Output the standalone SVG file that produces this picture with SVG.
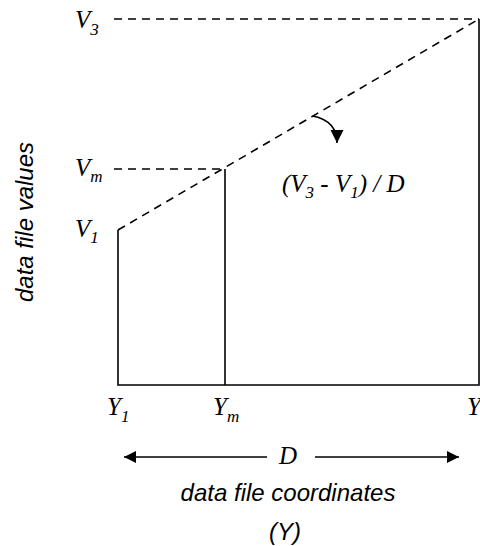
<svg xmlns="http://www.w3.org/2000/svg" width="480" height="546" viewBox="0 0 480 546">
<defs>
<style>
.m{font-family:"Liberation Serif","Times New Roman",serif;font-style:italic;font-size:25px;fill:#000}
.s{font-size:17px}
.a{font-family:"Liberation Sans",Arial,sans-serif;font-style:italic;font-size:24px;fill:#000}
.solid{stroke:#000;stroke-width:1.6;fill:none}
.dash{stroke:#000;stroke-width:1.6;fill:none;stroke-dasharray:8,6}
</style>
<marker id="ah" viewBox="0 0 10 10" refX="10" refY="5" markerWidth="14" markerHeight="12" markerUnits="userSpaceOnUse" orient="auto"><path d="M0,0L10,5L0,10z" fill="#000"/></marker>
<marker id="ahc" viewBox="0 0 10 10" refX="10" refY="5" markerWidth="13" markerHeight="16" markerUnits="userSpaceOnUse" orient="auto"><path d="M0,0L10,5L0,10z" fill="#000"/></marker>
</defs>
<g id="connectors">
<line class="dash" x1="114" y1="19" x2="479" y2="19"/>
<line class="dash" x1="114" y1="169" x2="225" y2="169"/>
<line class="dash" x1="118" y1="230" x2="479" y2="19"/>
<polyline class="solid" points="118,230 118,385 479,385 479,19"/>
<line class="solid" x1="225" y1="169" x2="225" y2="385"/>
<path class="solid" d="M313,116 Q337,121 337,143" marker-end="url(#ahc)"/>
<line class="solid" x1="267" y1="457" x2="124" y2="457" marker-end="url(#ah)"/>
<line class="solid" x1="315" y1="457" x2="459" y2="457" marker-end="url(#ah)"/>
</g>
<g id="labels">
<text class="m" x="75" y="28">V<tspan class="s" dy="7">3</tspan></text>
<text class="m" x="75" y="176">V<tspan class="s" dy="6">m</tspan></text>
<text class="m" x="75" y="237">V<tspan class="s" dy="6">1</tspan></text>
<text class="m" x="282" y="192">(V<tspan class="s" dy="6">3</tspan><tspan dy="-6"> - V</tspan><tspan class="s" dy="6">1</tspan><tspan dy="-6">) / D</tspan></text>
<text class="m" x="107" y="415">Y<tspan class="s" dy="7">1</tspan></text>
<text class="m" x="213" y="415">Y<tspan class="s" dy="7">m</tspan></text>
<text class="m" x="467" y="415">Y</text>
<text class="m" x="288" y="464" text-anchor="middle">D</text>
<text class="a" x="288" y="501" text-anchor="middle">data file coordinates</text>
<text class="a" x="285" y="540" text-anchor="middle">(Y)</text>
<text class="a" transform="translate(33,222) rotate(-90)" text-anchor="middle">data file values</text>
</g>
</svg>
